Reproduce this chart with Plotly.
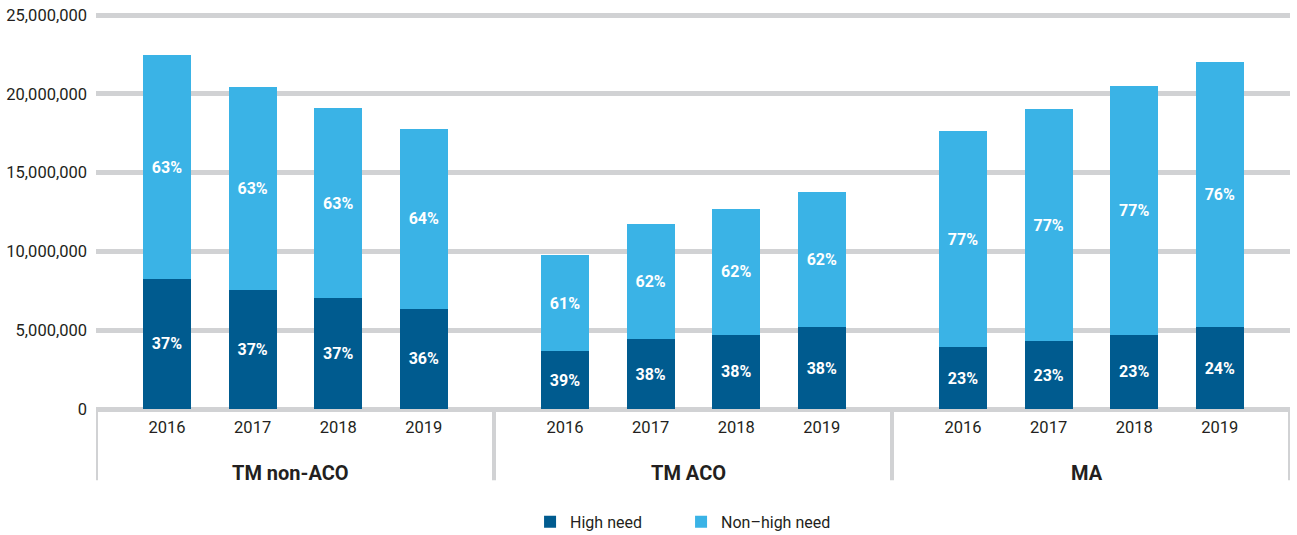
import plotly.graph_objects as go

groups = ["TM non-ACO", "TM ACO", "MA"]
years = ["2016", "2017", "2018", "2019"]

# Values (number of people) per group, per year
high_need = [
    [8.25e6, 7.55e6, 7.04e6, 6.35e6],
    [3.68e6, 4.44e6, 4.70e6, 5.20e6],
    [3.93e6, 4.31e6, 4.70e6, 5.20e6],
]
total = [
    [22.46e6, 20.43e6, 19.10e6, 17.77e6],
    [9.77e6, 11.74e6, 12.69e6, 13.77e6],
    [17.64e6, 19.04e6, 20.50e6, 22.00e6],
]
high_pct = [
    ["37%", "37%", "37%", "36%"],
    ["39%", "38%", "38%", "38%"],
    ["23%", "23%", "23%", "24%"],
]
non_pct = [
    ["63%", "63%", "63%", "64%"],
    ["61%", "62%", "62%", "62%"],
    ["77%", "77%", "77%", "76%"],
]
y_ticks = [0, 5e6, 10e6, 15e6, 20e6, 25e6]
y_ticktext = ["0", "5,000,000", "10,000,000", "15,000,000", "20,000,000", "25,000,000"]

DARK = "#005b8f"
LIGHT = "#3ab3e6"
GRID = "#d1d2d4"
TEXT = "#231f20"
FONT = "Roboto"

GROUP_W = 4.65
OFFSET = 0.83

xs, hn, nh, hp, npct, yl = [], [], [], [], [], []
for g in range(len(groups)):
    for i in range(len(years)):
        xs.append(g * GROUP_W + OFFSET + i)
        hn.append(high_need[g][i])
        nh.append(total[g][i] - high_need[g][i])
        hp.append(high_pct[g][i])
        npct.append(non_pct[g][i])
        yl.append(years[i])

fig = go.Figure()
common = dict(width=0.56, textposition="inside", insidetextanchor="middle",
              textangle=0, constraintext="none",
              textfont=dict(color="white", size=16, family=FONT, weight="bold"),
              hoverinfo="skip")
fig.add_trace(go.Bar(x=xs, y=hn, name="High need", marker=dict(color=DARK, line=dict(width=0)),
                     text=hp, **common))
fig.add_trace(go.Bar(x=xs, y=nh, name="Non\u2013high need", marker=dict(color=LIGHT, line=dict(width=0)),
                     text=npct, **common))

# Group separators
for g in range(len(groups) + 1):
    fig.add_shape(type="line", xref="x", yref="paper", x0=g * GROUP_W, x1=g * GROUP_W,
                  y0=0, y1=-0.18, line=dict(color=GRID, width=4), layer="below")
# Group labels
for g, name in enumerate(groups):
    fig.add_annotation(x=g * GROUP_W + GROUP_W / 2 - 0.05, y=-0.162, xref="x", yref="paper",
                       text=f"<b>{name}</b>", showarrow=False, yanchor="middle",
                       font=dict(size=20, color=TEXT, family=FONT))

fig.update_layout(
    barmode="stack",
    width=1297, height=535,
    margin=dict(l=96, r=7, t=13, b=126, autoexpand=False),
    plot_bgcolor="white", paper_bgcolor="white",
    font=dict(family=FONT, color=TEXT, size=16),
    showlegend=True,
    legend=dict(orientation="h", x=0.49, xanchor="center", y=-0.285, yanchor="middle",
                font=dict(size=16, color=TEXT, family=FONT), traceorder="normal",
                itemwidth=30, entrywidth=106),
    xaxis=dict(range=[0, 3 * GROUP_W], tickvals=xs, ticktext=yl, showgrid=False,
               zeroline=False, showline=False, ticks="", ticklabelstandoff=6,
               automargin=False,
               tickfont=dict(size=16.5, color=TEXT, family=FONT)),
    yaxis=dict(range=[0, 25.127e6], tickvals=y_ticks, ticktext=y_ticktext,
               showgrid=True, gridcolor=GRID, gridwidth=5, zeroline=True, zerolinecolor=GRID,
               zerolinewidth=5, showline=False, ticks="", ticklabelstandoff=8,
               automargin=False, ticklabeloverflow="allow",
               tickfont=dict(size=16.5, color=TEXT, family=FONT)),
)

fig.write_html("out.html", config={"displayModeBar": False},
               post_script="document.body.style.margin='0';")
